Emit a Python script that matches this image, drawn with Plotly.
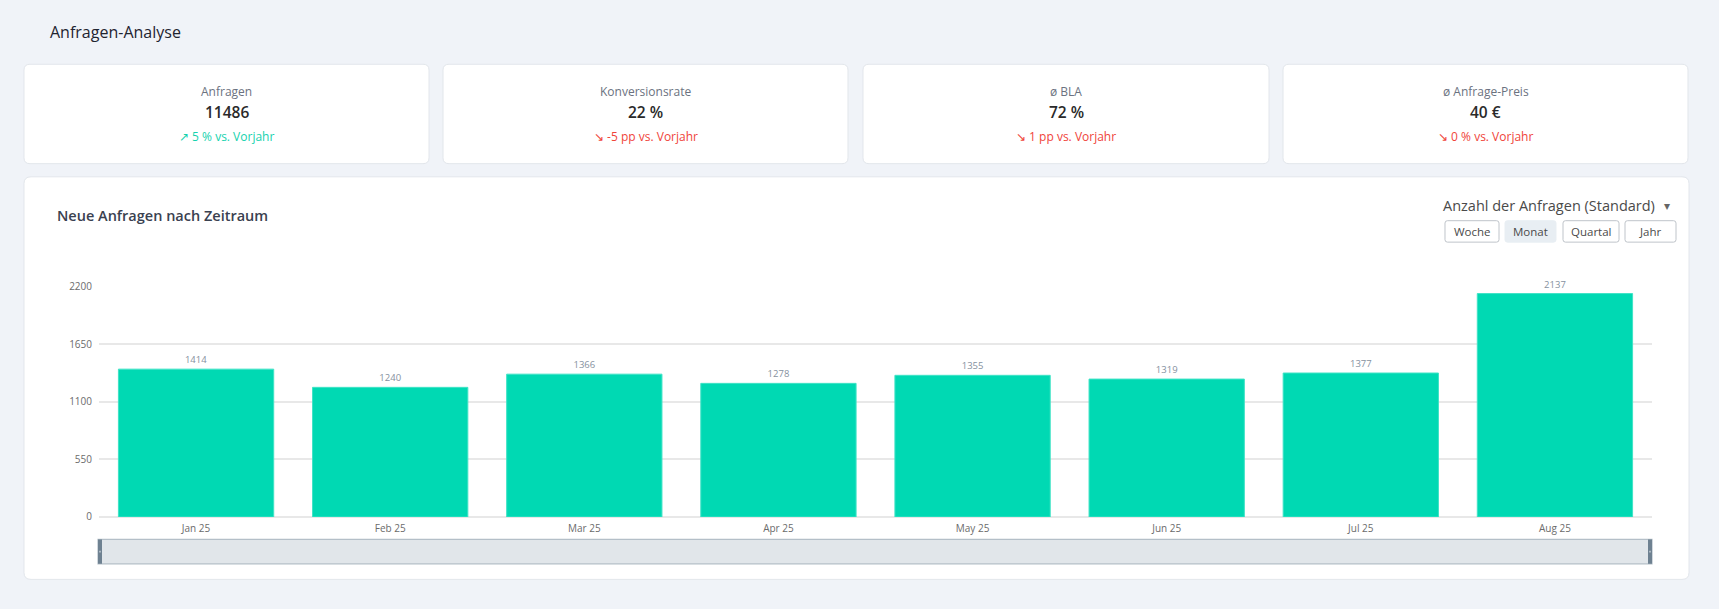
import plotly.graph_objects as go

PAGE_W, PAGE_H = 1719, 609
OFF = 8                       # default body margin of the page
W, H = PAGE_W - 2 * OFF, PAGE_H - 2 * OFF

# ---------------- data ----------------
months = ["Jan 25", "Feb 25", "Mar 25", "Apr 25", "May 25", "Jun 25", "Jul 25", "Aug 25"]
requests = [1414, 1240, 1366, 1278, 1355, 1319, 1377, 2137]
y_ticks = [0, 550, 1100, 1650, 2200]

kpi_labels = ["Anfragen", "Konversionsrate", "ø BLA", "ø Anfrage-Preis"]
kpi_values = ["11486", "22 %", "72 %", "40 €"]
kpi_deltas = ["↗ 5 % vs. Vorjahr", "↘ -5 pp vs. Vorjahr", "↘ 1 pp vs. Vorjahr", "↘ 0 % vs. Vorjahr"]
kpi_up = [True, False, False, False]

period_buttons = ["Woche", "Monat", "Quartal", "Jahr"]
active_button = "Monat"

FONT = "Open Sans"
BAR_COLOR = "#00d9b3"
BG = "#f0f3f8"


def px(x):
    return (x - OFF) / W


def py(y):
    return 1 - (y - OFF) / H


def rrect(x0, y0, x1, y1, r):
    pts = [
        ("M", [(x0 + r, y0)]), ("L", [(x1 - r, y0)]), ("Q", [(x1, y0), (x1, y0 + r)]),
        ("L", [(x1, y1 - r)]), ("Q", [(x1, y1), (x1 - r, y1)]), ("L", [(x0 + r, y1)]),
        ("Q", [(x0, y1), (x0, y1 - r)]), ("L", [(x0, y0 + r)]), ("Q", [(x0, y0), (x0 + r, y0)]),
    ]
    s = ""
    for cmd, ps in pts:
        s += cmd + " " + " ".join(f"{px(a):.6f},{py(b):.6f}" for a, b in ps) + " "
    return s + "Z"


shapes = []
annotations = []


def label(x, y, text, size, color, xanchor="center", weight=400):
    annotations.append(dict(x=px(x), y=py(y), xref="paper", yref="paper", text=text, showarrow=False,
                            xanchor=xanchor, yanchor="middle",
                            font=dict(family=FONT, size=size, color=color, weight=weight)))


# background covering the page margins too
shapes.append(dict(type="rect", x0=px(0), x1=px(PAGE_W), y0=py(0), y1=py(PAGE_H), xref="paper", yref="paper",
                   fillcolor=BG, line=dict(width=0), layer="below"))

# page title
label(48, 24, "Anfragen-Analyse", 16, "#1f2430", "left", 500)

# KPI cards
card_x = [(24, 429), (443, 848), (863, 1269), (1283, 1688)]
for (x0, x1), lab, val, dl, up in zip(card_x, kpi_labels, kpi_values, kpi_deltas, kpi_up):
    shapes.append(dict(type="path", path=rrect(x0, 57.5, x1, 159.5, 6), xref="paper", yref="paper",
                       fillcolor="white", line=dict(color="#e2e6eb", width=1), layer="below"))
    cx = (x0 + x1) / 2
    label(cx, 85, lab, 12, "#6b7280", weight=500)
    label(cx, 107, val, 15.5, "#2a2a2a", weight=600)
    label(cx, 132, dl, 12, "#16d2ae" if up else "#f0443a", weight=500)

# chart card
shapes.append(dict(type="path", path=rrect(24, 173, 1689, 586, 7), xref="paper", yref="paper",
                   fillcolor="white", line=dict(color="#e2e6eb", width=1), layer="below"))
label(55, 213, "Neue Anfragen nach Zeitraum", 14.5, "#3a4150", "left", 600)

# dropdown
label(1657, 202, "Anzahl der Anfragen (Standard)", 14.5, "#4a4a4a", "right")
label(1667, 202, "▾", 12, "#666666")

# period buttons
btn_x = [(1445, 1499), (1505, 1556), (1563, 1619), (1625, 1676)]
for (x0, x1), b in zip(btn_x, period_buttons):
    active = b == active_button
    shapes.append(dict(type="path", path=rrect(x0, 218, x1, 240, 2.5), xref="paper", yref="paper",
                       fillcolor="#e8eef3" if active else "white",
                       line=dict(color="#e8eef3" if active else "#bfc4ca", width=1), layer="above"))
    label((x0 + x1) / 2, 229, b, 11.5, "#4a4a4a")

# slider (data zoom) decoration
shapes.append(dict(type="rect", x0=px(98), x1=px(1652), y0=py(545), y1=py(570), xref="paper", yref="paper",
                   fillcolor="#e1e6ea", line=dict(color="#b4bfc8", width=1.2), layer="above"))
for hx in (98, 1648):
    shapes.append(dict(type="rect", x0=px(hx), x1=px(hx + 4), y0=py(545), y1=py(570), xref="paper",
                       yref="paper", fillcolor="#6e8191", line=dict(width=0), layer="above"))
    shapes.append(dict(type="rect", x0=px(hx + 1.3), x1=px(hx + 2.7), y0=py(556.5), y1=py(558.5),
                       xref="paper", yref="paper", fillcolor="#c8d0d7", line=dict(width=0), layer="above"))

fig = go.Figure()
fig.add_trace(go.Bar(
    x=months, y=requests, marker=dict(color=BAR_COLOR, line=dict(color="#3fe3c6", width=1)),
    text=[str(v) for v in requests], textposition="outside", cliponaxis=False,
    textfont=dict(family=FONT, size=9.5, color="#8591a0"), hoverinfo="skip",
))

fig.update_layout(
    width=W, height=H, margin=dict(l=0, r=0, t=0, b=0),
    paper_bgcolor=BG, plot_bgcolor="white",
    showlegend=False, bargap=0.2,
    shapes=shapes, annotations=annotations,
    xaxis=dict(domain=[px(99), px(1652)], showgrid=False, showline=False, ticks="",
               tickfont=dict(family=FONT, size=10, color="#6b6b6b"), ticklabelstandoff=4, fixedrange=True),
    yaxis=dict(domain=[py(522), py(286)], range=[0, 2200], tickvals=y_ticks, showgrid=True,
               gridcolor="#e8e8e8", gridwidth=1.5, zeroline=True, zerolinecolor="#e8e8e8", zerolinewidth=1.5,
               showline=False, ticks="", tickfont=dict(family=FONT, size=10, color="#6b6b6b"),
               ticklabelstandoff=6, fixedrange=True),
)

fig.write_html("out.html", config={"displayModeBar": False},
               post_script="document.documentElement.style.background='%s';document.body.style.background='%s';" % (BG, BG))
